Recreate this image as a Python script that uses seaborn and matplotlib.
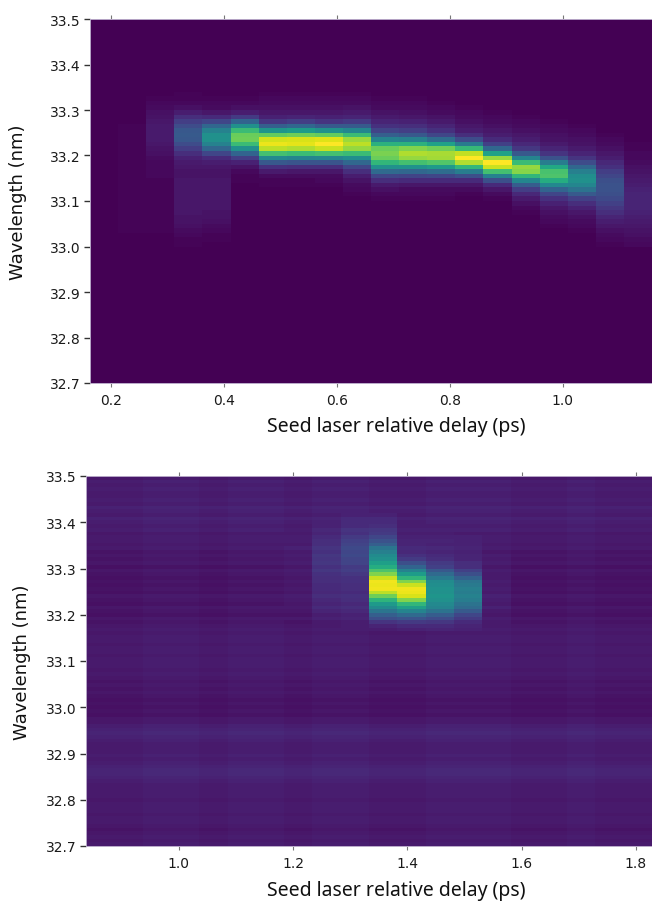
import numpy as np
import matplotlib
matplotlib.use('Agg')
import matplotlib.pyplot as plt
import seaborn as sns

sns.set_style('white')

WAVE_TICKS = [33.5, 33.4, 33.3, 33.2, 33.1, 33.0, 32.9, 32.8, 32.7]
DELAY_TICKS_TOP = [0.2, 0.4, 0.6, 0.8, 1.0]
DELAY_TICKS_BOTTOM = [1.0, 1.2, 1.4, 1.6, 1.8]
DELAY_RANGE_TOP = (0.163, 1.158)
DELAY_RANGE_BOTTOM = (0.838, 1.828)

# top panel, intensity in percent, one list per delay step
# rows go from 33.37 nm down to 33.01 nm in 0.01 nm steps
z = [0] * 37
top_columns = [
    z,
    [0] * 10 + [1] * 24 + [0] * 3,
    [0, 0, 0, 0, 1, 2, 3, 4, 5, 6, 7, 7, 7, 7, 6, 5, 4, 3, 2, 2, 2, 2, 1, 1, 1, 1, 1, 1, 1, 1, 1, 1, 1, 1, 0, 0, 0],
    [0, 0, 0, 1, 1, 2, 4, 8, 13, 18, 23, 27, 28, 27, 23, 18, 13, 9, 7, 6, 5, 5, 6, 6, 6, 6, 6, 6, 6, 6, 5, 5, 4, 3, 2, 1, 1],
    [0, 0, 0, 0, 1, 2, 3, 6, 12, 21, 33, 44, 50, 50, 44, 33, 21, 12, 8, 6, 5, 5, 6, 6, 6, 6, 6, 6, 6, 5, 5, 4, 3, 2, 1, 1, 0],
    [0, 0, 0, 0, 1, 2, 4, 8, 17, 32, 50, 68, 77, 78, 68, 50, 32, 18, 9, 5, 2, 1, 1, 0] + [0] * 13,
    [0, 0, 0, 1, 2, 3, 4, 6, 9, 16, 30, 52, 76, 93, 97, 90, 70, 47, 27, 14, 7, 3, 1, 1] + [0] * 13,
    [0, 0, 0, 1, 2, 3, 4, 6, 10, 18, 33, 55, 78, 94, 96, 88, 68, 45, 26, 13, 6, 3, 1, 1] + [0] * 13,
    [0, 0, 0, 1, 2, 3, 4, 6, 9, 15, 28, 50, 76, 95, 100, 92, 70, 46, 26, 13, 6, 3, 2, 1] + [0] * 13,
    [0, 0, 0, 1, 2, 3, 5, 7, 10, 17, 28, 46, 68, 85, 90, 84, 68, 49, 33, 21, 13, 8, 5, 3, 2, 1] + [0] * 11,
    [0, 0, 0, 0, 1, 2, 3, 5, 7, 10, 14, 20, 30, 45, 64, 77, 80, 77, 66, 50, 34, 21, 13, 7, 4, 2, 1] + [0] * 10,
    [0, 0, 0, 0, 1, 2, 3, 4, 6, 9, 13, 18, 27, 43, 64, 81, 88, 84, 70, 51, 33, 20, 12, 6, 3, 2, 1] + [0] * 10,
    [0, 0, 0, 0, 0, 1, 2, 3, 5, 7, 10, 14, 21, 35, 57, 78, 87, 86, 73, 54, 35, 21, 12, 6, 3, 2, 1] + [0] * 10,
    [0, 0, 0, 0, 0, 0, 1, 2, 3, 4, 6, 8, 13, 23, 41, 67, 91, 100, 88, 66, 42, 24, 12, 6, 3, 1] + [0] * 11,
    [0, 0, 0, 0, 0, 0, 0, 1, 2, 3, 4, 6, 8, 12, 19, 33, 57, 84, 100, 92, 70, 44, 24, 12, 6, 3, 1] + [0] * 10,
    [0] * 8 + [1, 2, 3, 4, 6, 8, 11, 16, 27, 45, 68, 84, 82, 66, 46, 29, 18, 11, 7, 4, 2, 1] + [0] * 7,
    [0] * 9 + [1, 2, 3, 4, 5, 7, 10, 15, 25, 42, 60, 71, 72, 62, 47, 32, 21, 14, 9, 6, 4, 3, 2, 1] + [0] * 4,
    [0] * 10 + [1, 2, 3, 4, 5, 7, 10, 15, 23, 33, 43, 49, 50, 46, 38, 28, 19, 13, 9, 6, 4, 3, 2, 1] + [0] * 3,
    [0] * 12 + [1, 2, 3, 4, 6, 8, 11, 14, 18, 21, 24, 25, 25, 24, 22, 19, 16, 13, 10, 8, 6, 4, 3, 2, 1],
    [0] * 14 + [1, 1, 2, 2, 3, 4, 5, 6, 7, 8, 9, 10, 10, 10, 10, 9, 8, 7, 6, 5, 4, 3, 2],
]

# bottom panel: striped background per row (100 rows, 33.5 to 32.7 nm)
bottom_rows = [
    6, 8, 7, 8, 7, 7, 8, 7, 9, 8,
    7, 9, 8, 7, 8, 6, 7, 7, 6, 7,
    5, 6, 5, 6, 4, 6, 5, 4, 5, 4,
    5, 4, 6, 5, 4, 6, 5, 4, 6, 5,
    6, 7, 6, 7, 7, 6, 7, 7, 6, 7,
    7, 7, 6, 7, 6, 5, 6, 5, 6, 5,
    4, 5, 4, 5, 4, 6, 6, 8, 9, 10,
    9, 8, 7, 7, 7, 8, 7, 8, 9, 10,
    10, 9, 8, 7, 7, 7, 7, 6, 7, 7,
    7, 6, 7, 7, 6, 5, 6, 7, 6, 7,
]
bottom_col_offset = [0, 0, 1, 1, 0, 1, 1, 0, 1, 1, 0, 0, 1, 1, 1, 0, 0, 1, 0, 0]

# signal above the background, delay steps 7 to 14, rows 10 to 41
bottom_signal = {
    7: [0, 0, 0, 0, 0, 1, 1, 1, 1, 2, 2, 2, 2, 2, 2, 2, 2, 2, 2, 2, 2, 2, 2, 2, 2, 1, 1, 1, 1, 0, 0, 0],
    8: [0, 0, 0, 1, 2, 3, 4, 5, 6, 7, 8, 9, 9, 9, 9, 9, 8, 8, 7, 7, 6, 6, 6, 5, 5, 5, 4, 3, 2, 1, 0, 0],
    9: [1, 2, 3, 4, 6, 7, 9, 11, 13, 14, 15, 15, 14, 13, 12, 11, 10, 9, 8, 8, 7, 7, 7, 7, 6, 6, 5, 4, 3, 2, 1, 0],
    10: [2, 3, 4, 6, 8, 11, 14, 18, 24, 32, 38, 42, 45, 50, 58, 66, 76, 88, 93, 93, 93, 86, 72, 60, 50, 42, 34, 26, 18, 10, 4, 1],
    11: [0, 0, 0, 1, 1, 2, 2, 3, 4, 5, 6, 8, 12, 18, 28, 38, 50, 62, 76, 88, 93, 93, 88, 76, 62, 50, 40, 30, 20, 12, 6, 2],
    12: [0, 0, 0, 0, 0, 1, 1, 2, 2, 3, 4, 5, 7, 10, 14, 20, 28, 36, 42, 44, 45, 45, 45, 44, 42, 38, 32, 24, 16, 10, 5, 2],
    13: [0, 0, 0, 0, 0, 0, 1, 1, 2, 2, 3, 3, 4, 6, 8, 12, 18, 26, 33, 36, 37, 37, 37, 36, 33, 28, 22, 16, 10, 6, 3, 1],
    14: [0, 0, 0, 0, 0, 0, 0, 0, 0, 0, 0, 1, 1, 1, 1, 1, 1, 2, 2, 2, 2, 2, 2, 2, 2, 2, 1, 1, 1, 1, 0, 0],
}

# top image: 80 rows over the full 0.8 nm, band table slotted in from row 13
top_image = np.zeros((80, 20))
top_image[13:50, :] = np.array(top_columns).T

bottom_image = np.outer(bottom_rows, np.ones(20)) + np.array(bottom_col_offset)
for col, vals in bottom_signal.items():
    bottom_image[10:42, col] += vals


def box_px(box):
    return box[0] * 652, box[1] * 903, box[2] * 652, box[3] * 903


def axes_box(left, top, right, bottom):
    return [left / 652, 1 - bottom / 903, (right - left) / 652, (bottom - top) / 903]


def draw_panel(fig, box, image, delay_range, delay_ticks, ylab_x, xlab_y):
    ax = fig.add_axes(box)
    sns.heatmap(image, ax=ax, cmap='viridis', vmin=0, vmax=100, cbar=False,
                xticklabels=False, yticklabels=False)
    nrows, ncols = image.shape

    x0, x1 = delay_range
    xpos = [(d - x0) / (x1 - x0) * ncols for d in delay_ticks]
    ypos = [(33.5 - w) / 0.8 * nrows for w in WAVE_TICKS]
    ax.set_xticks(xpos)
    ax.set_xticklabels(['%.1f' % d for d in delay_ticks], rotation=0)
    ax.set_yticks(ypos)
    ax.set_yticklabels(['%.1f' % w for w in WAVE_TICKS], rotation=0)
    ax.tick_params(axis='x', length=3, width=0.8, color='#777777', labelsize=10,
                   pad=4, bottom=True, top=True, labelcolor='#1a1a1a')
    ax.tick_params(axis='y', length=4, width=1, color='#333333', labelsize=10,
                   pad=3, left=True, labelcolor='#1a1a1a')

    for side, spine in ax.spines.items():
        spine.set_visible(side in ('left', 'bottom', 'top'))
        spine.set_color('#b8a8c8')
        spine.set_linewidth(0.7)

    ax.set_xlabel('Seed laser relative delay (ps)', fontsize=14,
                  family='Noto Sans', color='#111111', va='center')
    ax.xaxis.set_label_coords((396 - box_px(box)[0]) / box_px(box)[2], xlab_y)
    ax.set_ylabel('Wavelength (nm)', fontsize=13, color='#111111', va='center')
    ax.yaxis.set_label_coords(ylab_x, 0.5)
    return ax


fig = plt.figure(figsize=(6.52, 9.03), dpi=100)

draw_panel(fig, axes_box(90, 20, 652, 384), top_image, DELAY_RANGE_TOP,
           DELAY_TICKS_TOP, (18 - 90) / 562, 1 - (427 - 20) / 364)
draw_panel(fig, axes_box(86, 477, 652, 847), bottom_image, DELAY_RANGE_BOTTOM,
           DELAY_TICKS_BOTTOM, (22 - 86) / 566, 1 - (891 - 477) / 370)

fig.savefig('out.png', dpi=100)
